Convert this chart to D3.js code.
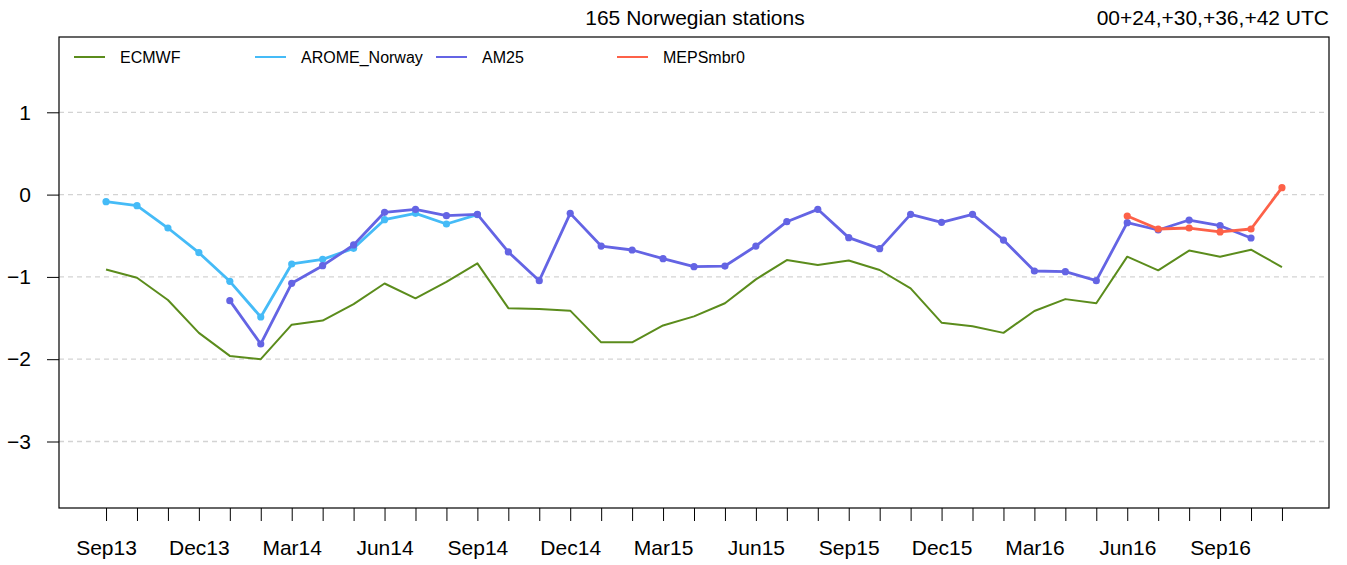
<!DOCTYPE html>
<html>
<head>
<meta charset="utf-8">
<script src="https://cdn.jsdelivr.net/npm/d3@7"></script>
<style>
  body { margin: 0; background: #fff; }
  svg { display: block; font-family: "Liberation Sans", Arial, sans-serif; }
</style>
</head>
<body>
<svg id="chart" width="1347" height="565"></svg>
<script>
// months Sep13 .. Nov16
const months = ["Sep13","Oct13","Nov13","Dec13","Jan14","Feb14","Mar14","Apr14","May14","Jun14","Jul14","Aug14",
  "Sep14","Oct14","Nov14","Dec14","Jan15","Feb15","Mar15","Apr15","May15","Jun15","Jul15","Aug15",
  "Sep15","Oct15","Nov15","Dec15","Jan16","Feb16","Mar16","Apr16","May16","Jun16","Jul16","Aug16",
  "Sep16","Oct16","Nov16"];
const tickLabels = ["Sep13","Dec13","Mar14","Jun14","Sep14","Dec14","Mar15","Jun15","Sep15","Dec15","Mar16","Jun16","Sep16"];
const yTicks = [1, 0, -1, -2, -3];

// values start at month index given by *_start
const ecmwf = [-0.91,-1.01,-1.28,-1.68,-1.96,-2.00,-1.58,-1.53,-1.33,-1.08,-1.26,-1.06,-0.835,
  -1.38,-1.39,-1.41,-1.795,-1.795,-1.59,-1.48,-1.32,-1.03,-0.795,-0.855,-0.80,-0.916,-1.14,
  -1.556,-1.60,-1.68,-1.414,-1.27,-1.32,-0.754,-0.92,-0.68,-0.754,-0.67,-0.88];
const ecmwf_start = 0;
const arome = [-0.086,-0.135,-0.406,-0.706,-1.054,-1.487,-0.843,-0.787,-0.653,-0.305,-0.228,-0.357,-0.244];
const arome_start = 0;
const am25 = [-1.289,-1.815,-1.078,-0.864,-0.612,-0.215,-0.179,-0.256,-0.24,
  -0.697,-1.046,-0.228,-0.625,-0.673,-0.778,-0.876,-0.868,-0.625,-0.329,-0.179,-0.523,-0.657,-0.24,
  -0.337,-0.24,-0.552,-0.928,-0.936,-1.046,-0.341,-0.43,-0.309,-0.378,-0.527];
const am25_start = 4;
const meps = [-0.26,-0.418,-0.406,-0.454,-0.418,0.084];
const meps_start = 33;

const series = [
  {name: "ECMWF", values: ecmwf, start: ecmwf_start, color: "#5b8c1c", points: false, width: 2},
  {name: "AROME_Norway", values: arome, start: arome_start, color: "#45bbf7", points: true, width: 2.8},
  {name: "AM25", values: am25, start: am25_start, color: "#6464e4", points: true, width: 2.8},
  {name: "MEPSmbr0", values: meps, start: meps_start, color: "#fd6148", points: true, width: 2.8}
];

const svg = d3.select("#chart");
const plotL = 59, plotR = 1329, plotT = 37, plotB = 508;

const x = d3.scaleLinear().domain([-1.52, 39.52]).range([plotL, plotR]);
const y = d3.scaleLinear().domain([-3.808, 1.915]).range([plotB, plotT]);

// grid
svg.append("g").selectAll("line")
  .data(yTicks)
  .join("line")
  .attr("x1", plotL).attr("x2", plotR - 3)
  .attr("y1", d => y(d)).attr("y2", d => y(d))
  .attr("stroke", "#d3d3d3")
  .attr("stroke-width", 1.3)
  .attr("stroke-dasharray", "5,4");

// y axis
const yAxis = svg.append("g")
  .attr("transform", `translate(${plotL},0)`)
  .call(d3.axisLeft(y).tickValues(yTicks).tickSize(12).tickPadding(16)
    .tickFormat(d => d < 0 ? "\u2212" + Math.abs(d) : d));
yAxis.select(".domain").remove();
yAxis.selectAll("text").attr("font-size", 21).attr("fill", "#000").attr("font-family", "Liberation Sans, Arial, sans-serif");
yAxis.selectAll("line").attr("stroke", "#000");

// x axis
const xAxis = svg.append("g")
  .attr("transform", `translate(0,${plotB})`)
  .call(d3.axisBottom(x).tickValues(d3.range(months.length)).tickSize(13).tickPadding(19)
    .tickFormat(i => tickLabels.includes(months[i]) ? months[i] : ""));
xAxis.select(".domain").remove();
xAxis.selectAll("text").attr("font-size", 21).attr("fill", "#000").attr("font-family", "Liberation Sans, Arial, sans-serif");
xAxis.selectAll("line").attr("stroke", "#000");

// series
const line = d3.line().x(d => x(d[0])).y(d => y(d[1]));
series.forEach(s => {
  const pts = s.values.map((v, k) => [s.start + k, v]);
  svg.append("path")
    .attr("d", line(pts))
    .attr("fill", "none")
    .attr("stroke", s.color)
    .attr("stroke-width", s.width)
    .attr("stroke-linejoin", "round");
  if (s.points) {
    svg.append("g").selectAll("circle")
      .data(pts)
      .join("circle")
      .attr("cx", d => x(d[0]))
      .attr("cy", d => y(d[1]))
      .attr("r", 3.6)
      .attr("fill", s.color);
  }
});

// box
svg.append("rect")
  .attr("x", plotL).attr("y", plotT)
  .attr("width", plotR - plotL).attr("height", plotB - plotT)
  .attr("fill", "none").attr("stroke", "#000").attr("stroke-width", 1.2);

// legend
const legendX = [74, 255, 436, 617];
const legend = svg.append("g").selectAll("g")
  .data(series)
  .join("g")
  .attr("transform", (d, i) => `translate(${legendX[i]},57)`);
legend.append("line")
  .attr("x1", 0).attr("x2", 31)
  .attr("stroke", d => d.color).attr("stroke-width", 2);
legend.append("text")
  .attr("x", 46).attr("y", 6)
  .attr("font-size", 16)
  .text(d => d.name);

// titles
svg.append("text")
  .attr("x", (plotL + plotR) / 2 + 1).attr("y", 25)
  .attr("text-anchor", "middle")
  .attr("font-size", 21)
  .text("165 Norwegian stations");
svg.append("text")
  .attr("x", plotR).attr("y", 25)
  .attr("text-anchor", "end")
  .attr("font-size", 21)
  .text("00+24,+30,+36,+42 UTC");
</script>
</body>
</html>
